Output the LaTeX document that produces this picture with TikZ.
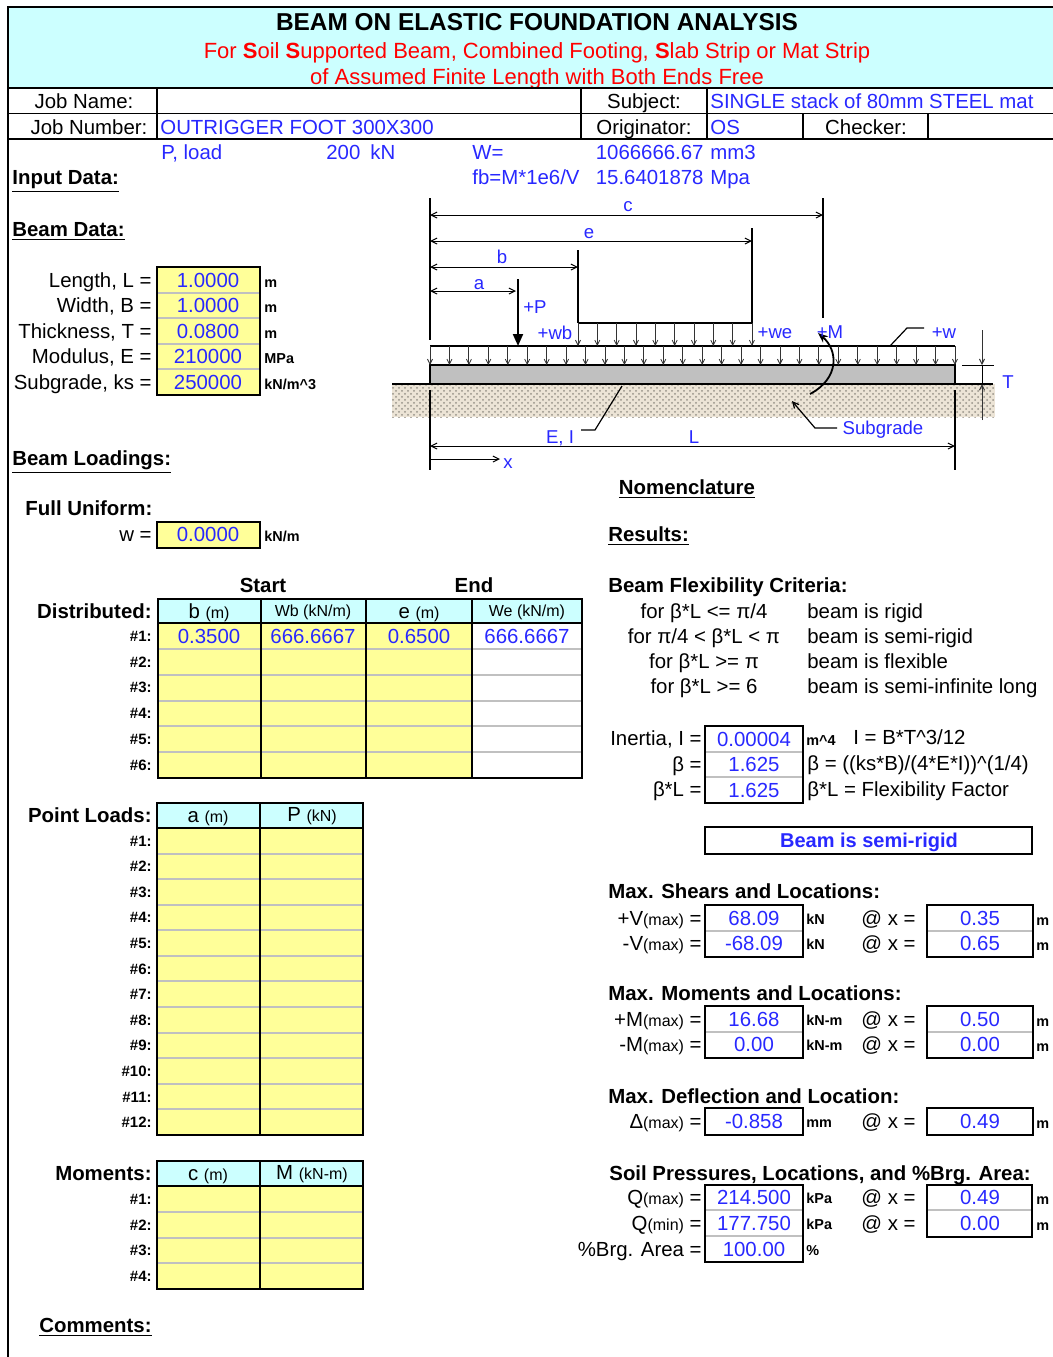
\documentclass[tikz,border=0pt]{standalone}
\usepackage{fontspec}
\setmainfont{Liberation Sans}
\usetikzlibrary{arrows.meta,patterns}
\definecolor{hdcyan}{RGB}{204,255,255}
\definecolor{cellyel}{RGB}{255,255,153}
\definecolor{valblue}{RGB}{40,40,255}
\definecolor{gridgray}{RGB}{192,192,192}
\definecolor{beamgray}{RGB}{192,192,192}
\definecolor{soilbg}{RGB}{236,228,214}
\definecolor{soildot}{RGB}{150,145,135}
\newcommand\fs[1]{\fontsize{#1}{#1}\selectfont}
\newcommand\smtxt[1]{{\fs{8}#1}}

\begin{document}
\begin{tikzpicture}
  [x=0.5pt,y=-0.5pt,
   every node/.style={inner sep=0pt,font=\fs{10.2},text height=7.3pt,text depth=0pt},
   lbl/.style={anchor=east},
   txt/.style={anchor=west},
   val/.style={text=valblue},
   bhead/.style={anchor=west,font=\bfseries\fs{10.2}},
   unit/.style={anchor=west,font=\bfseries\fs{7.2},text height=5.2pt},
   rnum/.style={anchor=east,font=\bfseries\fs{7.5},text height=5.4pt},
   dimtxt/.style={text=valblue,font=\fs{9.3},text height=6.7pt},
   boxln/.style={draw=black,line width=0.8pt},
   sepline/.style={draw=gridgray,line width=1pt},
   dimline/.style={{Straight Barb[length=3pt,width=3pt]}-{Straight Barb[length=3pt,width=3pt]},line width=0.5pt},
   loadarr/.style={-{Straight Barb[length=2.5pt,width=2.5pt]},line width=0.4pt,draw=black!80}]

\fill[white] (0,0) rectangle (1053,1357);
\useasboundingbox (0,0) rectangle (1053,1357);

% title block
\fill[hdcyan] (8,7) rectangle (1053,88);
\draw[boxln] (1053,7) -- (8,7) -- (8,1357);
\node[font=\bfseries\fs{12.2},text height=8.8pt] (title) at (537,22) {BEAM ON ELASTIC FOUNDATION ANALYSIS};
\node[text=red,font=\fs{11},text height=7.9pt] (sub1) at (537,51) {For \textbf{S}oil \textbf{S}upported Beam, Combined Footing, \textbf{S}lab Strip or Mat Strip};
\node[text=red,font=\fs{11},text height=7.9pt] (sub2) at (537,77) {of Assumed Finite Length with Both Ends Free};

% job rows
\draw[boxln] (8,88) -- (1053,88);
\draw[boxln] (8,113.5) -- (1053,113.5);
\draw[boxln] (8,139) -- (1053,139);
\foreach \cx in {157,581,707} \draw[boxln] (\cx,88) -- (\cx,139);
\foreach \cx in {803,928} \draw[boxln] (\cx,113.5) -- (\cx,139);
\node (jobname) at (84,101) {Job Name:};
\node (subject) at (644,101) {Subject:};
\node[txt,val] (subjval) at (710,101) {SINGLE stack of 80mm STEEL mat};
\node (jobnum) at (89,127) {Job Number:};
\node[txt,val] (jobval) at (160,127) {OUTRIGGER FOOT 300X300};
\node (orig) at (644,127) {Originator:};
\node[txt,val] (origval) at (710,127) {OS};
\node (checker) at (866,127) {Checker:};

% loads note
\node[txt,val] (pl) at (161,152) {P, load};
\node[txt,val] (plv) at (326,152) {200};
\node[txt,val] (plu) at (370,152) {kN};
\node[txt,val] (wl) at (472,152) {W=};
\node[lbl,val] (wv) at (704,152) {1066666.67};
\node[txt,val] (wu) at (710,152) {mm3};
\node[txt,val] (fbl) at (472,177) {fb=M*1e6/V};
\node[lbl,val] (fbv) at (704,177) {15.6401878};
\node[txt,val] (fbu) at (710,177) {Mpa};
\node[bhead] (input) at (12,177) {\underline{Input Data:}};

% beam data
\node[bhead] (beamdata) at (12,229) {\underline{Beam Data:}};
\fill[cellyel] (157,267) rectangle (260,395);
\foreach \r in {1,...,4} \draw[sepline] (157,{267+25.6*\r}) -- (260,{267+25.6*\r});
\draw[boxln] (157,267) rectangle (260,395);
\foreach \n/\t/\v/\u [count=\r] in {len/{Length, L =}/1.0000/m,wid/{Width, B =}/1.0000/m,
    thk/{Thickness, T =}/0.0800/m,mod/{Modulus, E =}/210000/{MPa},ks/{Subgrade, ks =}/250000/{kN/m\textasciicircum 3}}
  {\node[lbl] (\n lbl) at (152,{267+25.6*(\r-0.5)}) {\t};
   \node[val] (\n val) at (208,{267+25.6*(\r-0.5)}) {\v};
   \node[unit] (\n unit) at (264,{269+25.6*(\r-0.5)}) {\u};}

% loadings
\node[bhead] (loadings) at (12,458) {\underline{Beam Loadings:}};
\node[bhead] (fulluni) at (25,508) {Full Uniform:};
\fill[cellyel] (157,522) rectangle (260,548);
\draw[boxln] (157,522) rectangle (260,548);
\node[lbl] (wlbl) at (152,534) {w =};
\node[val] (wval) at (208,534) {0.0000};
\node[unit] (wunit) at (264,536) {kN/m};

% distributed loads
\node[font=\bfseries\fs{10.2}] (start) at (263,585) {Start};
\node[font=\bfseries\fs{10.2}] (end) at (474,585) {End};
\node[lbl,font=\bfseries\fs{10.2}] (distr) at (152,611) {Distributed:};
\fill[cellyel] (158,623) rectangle (472,778);
\fill[hdcyan] (158,599) rectangle (582,623);
\foreach \r in {1,...,5} \draw[sepline] (158,{623+25.83*\r}) -- (582,{623+25.83*\r});
\foreach \cx in {261,366,472} \draw[boxln] (\cx,599) -- (\cx,778);
\draw[boxln] (158,623) -- (582,623);
\draw[boxln] (158,599) rectangle (582,778);
\node (hb) at (209,611) {b \smtxt{(m)}};
\node[font=\fs{8},text height=5.8pt] (hwb) at (313,611) {Wb (kN/m)};
\node (he) at (419,611) {e \smtxt{(m)}};
\node[font=\fs{8},text height=5.8pt] (hwe) at (527,611) {We (kN/m)};
\node[val] (v1) at (209,636) {0.3500};
\node[val] (v2) at (313,636) {666.6667};
\node[val] (v3) at (419,636) {0.6500};
\node[val] (v4) at (527,636) {666.6667};
\foreach \r in {1,...,6} \node[rnum] (dr\r) at (152,{623+25.83*(\r-0.5)}) {\#\r:};

% point loads
\node[lbl,font=\bfseries\fs{10.2}] (ptl) at (152,815) {Point Loads:};
\fill[cellyel] (157,828) rectangle (363,1135);
\fill[hdcyan] (157,803) rectangle (363,828);
\foreach \r in {1,...,11} \draw[sepline] (157,{828+25.58*\r}) -- (363,{828+25.58*\r});
\draw[boxln] (260,803) -- (260,1135);
\draw[boxln] (157,828) -- (363,828);
\draw[boxln] (157,803) rectangle (363,1135);
\node (ha) at (208,815) {a \smtxt{(m)}};
\node (hp) at (312,814) {P \smtxt{(kN)}};
\foreach \r in {1,...,12} \node[rnum] (pr\r) at (152,{828+25.58*(\r-0.5)}) {\#\r:};

% moments
\node[lbl,font=\bfseries\fs{10.2}] (mom) at (152,1173) {Moments:};
\fill[cellyel] (157,1186) rectangle (363,1289);
\fill[hdcyan] (157,1161) rectangle (363,1186);
\foreach \r in {1,...,3} \draw[sepline] (157,{1186+25.75*\r}) -- (363,{1186+25.75*\r});
\draw[boxln] (260,1161) -- (260,1289);
\draw[boxln] (157,1186) -- (363,1186);
\draw[boxln] (157,1161) rectangle (363,1289);
\node (hc) at (208,1173) {c \smtxt{(m)}};
\node (hm) at (312,1172) {M \smtxt{(kN-m)}};
\foreach \r in {1,...,4} \node[rnum] (mr\r) at (152,{1186+25.75*(\r-0.5)}) {\#\r:};

\node[bhead] (comments) at (39,1325) {\underline{Comments:}};

% nomenclature sketch
\fill[soilbg] (392,384) rectangle (995,417);
\fill[pattern=crosshatch dots,pattern color=soildot] (392,384) rectangle (995,417);
\draw[boxln,line width=0.6pt] (392,384) -- (993,384);
\draw[line width=0.6pt,fill=beamgray] (430,365) rectangle (955,384);
\draw[line width=0.6pt] (430,198) -- (430,340);
\draw[line width=0.6pt] (430,390) -- (430,470);
\draw[line width=0.6pt] (578,250) -- (578,323);
\draw[line width=0.6pt] (752,228) -- (752,323);
\draw[line width=0.6pt] (823,198) -- (823,318);
\draw[line width=0.6pt] (955,390) -- (955,470);
\draw[dimline] (430,215) -- (823,215);
\draw[dimline] (430,241) -- (752,241);
\draw[dimline] (430,267) -- (578,267);
\draw[dimline] (430,291) -- (516,291);
\draw[dimline] (430,446) -- (955,446);
\draw[line width=0.5pt,-{Straight Barb[length=3pt,width=3pt]}] (430,459) -- (500,459);
\draw[line width=0.6pt] (430,346) -- (955,346);
\draw[line width=0.6pt] (578,323) -- (752,323);
\foreach \i in {0,...,27} \draw[loadarr] ({430+\i*19.444},346) -- ({430+\i*19.444},365);
\foreach \i in {0,...,9} \draw[loadarr] ({578+\i*19.33},323) -- ({578+\i*19.33},346);
\draw[line width=1pt,-{Triangle[length=6pt,width=5pt]}] (518,279) -- (518,346);
\draw[line width=0.9pt,-{Stealth[length=5pt,width=4pt]}] (810,394) .. controls (840,378) and (838,350) .. (818,333);
\draw[line width=0.6pt] (924,328) -- (907,328) -- (890,346);
\draw[line width=0.6pt] (581,430) -- (595,430) -- (622,386);
\draw[line width=0.6pt,-{Straight Barb[length=3pt,width=3pt]}] (837,428) -- (815,428) -- (792,401);
\draw[loadarr,line width=0.5pt] (982,330) -- (982,365);
\draw[line width=0.5pt] (962,365) -- (994,365);
\draw[line width=0.5pt] (982,365) -- (982,384);
\draw[loadarr,line width=0.5pt] (982,420) -- (982,384);
\node[dimtxt] (lc) at (628,205) {c};
\node[dimtxt] (le) at (589,232) {e};
\node[dimtxt] (lb) at (502,257) {b};
\node[dimtxt] (la) at (479,283) {a};
\node[dimtxt] (lp) at (535,307) {+P};
\node[dimtxt] (lwb) at (555,333) {+wb};
\node[dimtxt] (lwe) at (775,332) {+we};
\node[dimtxt] (lm) at (830,332) {+M};
\node[dimtxt] (lw) at (944,332) {+w};
\node[dimtxt] (lei) at (560,437) {E, I};
\node[dimtxt] (ll) at (694,437) {L};
\node[dimtxt] (lx) at (508,462) {x};
\node[dimtxt] (lsub) at (883,428) {Subgrade};
\node[dimtxt] (lt) at (1008,382) {T};
\node[font=\bfseries\fs{10.2}] (nomen) at (687,487) {\underline{Nomenclature}};

% results
\node[bhead] (results) at (608,534) {\underline{Results:}};
\node[bhead] (crit) at (608,585) {Beam Flexibility Criteria:};
\node (c1) at (704,611) {for β*L <= π/4};
\node (c2) at (704,636) {for π/4 < β*L < π};
\node (c3) at (704,661) {for β*L >= π};
\node (c4) at (704,686) {for β*L >= 6};
\node[txt] (r1) at (807,611) {beam is rigid};
\node[txt] (r2) at (807,636) {beam is semi-rigid};
\node[txt] (r3) at (807,661) {beam is flexible};
\node[txt] (r4) at (807,686) {beam is semi-infinite long};

\draw[boxln,fill=white] (705,726) rectangle (803,803);
\draw[sepline] (706,752) -- (802,752);
\draw[sepline] (706,777) -- (802,777);
\draw[boxln] (705,726) rectangle (803,803);
\node[lbl] (inl) at (702,738) {Inertia, I =};
\node[lbl] (bel) at (702,764) {β =};
\node[lbl] (bll) at (702,789) {β*L =};
\node[val] (inv) at (754,739) {0.00004};
\node[val] (bev) at (754,764) {1.625};
\node[val] (blv) at (754,790) {1.625};
\node[unit] (inu) at (806,740) {m\textasciicircum 4};
\node[txt] (inf) at (853,737) {I = B*T\textasciicircum 3/12};
\node[txt] (bef) at (807,763) {β = ((ks*B)/(4*E*I))\textasciicircum(1/4)};
\node[txt] (blf) at (807,789) {β*L = Flexibility Factor};
\draw[line width=1.2pt] (705,827) rectangle (1032,854);
\node[val,font=\bfseries\fs{10}] (verdict) at (869,840) {Beam is semi-rigid};

% shears
\node[bhead] (shear) at (608,891) {Max. Shears and Locations:};
\draw[boxln,fill=white] (705,905) rectangle (803,957);
\draw[sepline] (706,931) -- (802,931);
\draw[boxln] (705,905) rectangle (803,957);
\draw[boxln,fill=white] (927,905) rectangle (1033,957);
\draw[sepline] (928,931) -- (1032,931);
\draw[boxln] (927,905) rectangle (1033,957);
\node[lbl] (vpl) at (702,918) {+V\smtxt{(max)} =};
\node[lbl] (vnl) at (702,943) {-V\smtxt{(max)} =};
\node[val] (vpv) at (754,918) {68.09};
\node[val] (vnv) at (754,943) {-68.09};
\node[unit] (vpu) at (806,919) {kN};
\node[unit] (vnu) at (806,944) {kN};
\node[lbl] (vpat) at (916,918) {@ x =};
\node[lbl] (vnat) at (916,943) {@ x =};
\node[val] (vpx) at (980,918) {0.35};
\node[val] (vnx) at (980,943) {0.65};
\node[unit] (vpm) at (1036,920) {m};
\node[unit] (vnm) at (1036,945) {m};

% moments
\node[bhead] (moment) at (608,993) {Max. Moments and Locations:};
\draw[boxln,fill=white] (705,1006) rectangle (803,1058);
\draw[sepline] (706,1032) -- (802,1032);
\draw[boxln] (705,1006) rectangle (803,1058);
\draw[boxln,fill=white] (927,1006) rectangle (1033,1058);
\draw[sepline] (928,1032) -- (1032,1032);
\draw[boxln] (927,1006) rectangle (1033,1058);
\node[lbl] (mpl) at (702,1019) {+M\smtxt{(max)} =};
\node[lbl] (mnl) at (702,1044) {-M\smtxt{(max)} =};
\node[val] (mpv) at (754,1019) {16.68};
\node[val] (mnv) at (754,1044) {0.00};
\node[unit] (mpu) at (806,1020) {kN-m};
\node[unit] (mnu) at (806,1045) {kN-m};
\node[lbl] (mpat) at (916,1019) {@ x =};
\node[lbl] (mnat) at (916,1044) {@ x =};
\node[val] (mpx) at (980,1019) {0.50};
\node[val] (mnx) at (980,1044) {0.00};
\node[unit] (mpm) at (1036,1021) {m};
\node[unit] (mnm) at (1036,1046) {m};

% deflection
\node[bhead] (defl) at (608,1096) {Max. Deflection and Location:};
\draw[boxln,fill=white] (705,1108) rectangle (803,1135);
\draw[boxln,fill=white] (927,1108) rectangle (1033,1135);
\node[lbl] (dl) at (702,1121) {Δ\smtxt{(max)} =};
\node[val] (dv) at (754,1121) {-0.858};
\node[unit] (du) at (806,1122) {mm};
\node[lbl] (dat) at (916,1121) {@ x =};
\node[val] (dx) at (980,1121) {0.49};
\node[unit] (dm) at (1036,1123) {m};

% soil pressures
\node[bhead] (soil) at (609,1173) {Soil Pressures, Locations, and \%Brg. Area:};
\draw[boxln,fill=white] (705,1185) rectangle (803,1262);
\draw[sepline] (706,1210) -- (802,1210);
\draw[sepline] (706,1236) -- (802,1236);
\draw[boxln] (705,1185) rectangle (803,1262);
\draw[boxln,fill=white] (927,1185) rectangle (1032,1237);
\draw[sepline] (928,1210) -- (1031,1210);
\draw[boxln] (927,1185) rectangle (1032,1237);
\node[lbl] (qxl) at (702,1197) {Q\smtxt{(max)} =};
\node[lbl] (qnl) at (702,1223) {Q\smtxt{(min)} =};
\node[lbl] (brl) at (702,1249) {\%Brg. Area =};
\node[val] (qxv) at (754,1197) {214.500};
\node[val] (qnv) at (754,1223) {177.750};
\node[val] (brv) at (754,1249) {100.00};
\node[unit] (qxu) at (806,1198) {kPa};
\node[unit] (qnu) at (806,1224) {kPa};
\node[unit] (bru) at (806,1250) {\%};
\node[lbl] (qxat) at (916,1197) {@ x =};
\node[lbl] (qnat) at (916,1223) {@ x =};
\node[val] (qxx) at (980,1197) {0.49};
\node[val] (qnx) at (980,1223) {0.00};
\node[unit] (qxm) at (1036,1199) {m};
\node[unit] (qnm) at (1036,1225) {m};
\end{tikzpicture}
\end{document}
